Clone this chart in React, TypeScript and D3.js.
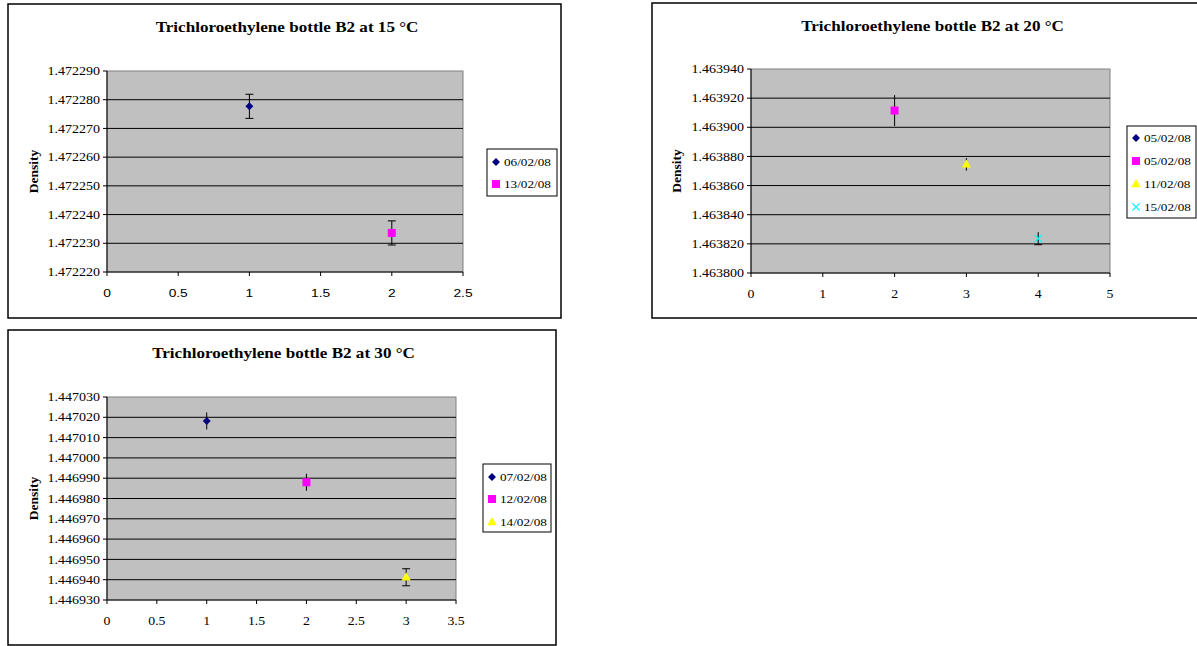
import React from 'react';
import * as d3 from 'd3';

// ---- data ----
const names15 = ['06/02/08', '13/02/08'];
const x15 = [1, 2];
const density15 = [1.4722777, 1.4722336];
const err15 = [0.0000042, 0.0000042];
const yTicks15 = ['1.472220', '1.472230', '1.472240', '1.472250', '1.472260', '1.472270', '1.472280', '1.472290'];
const xTicks15 = ['0', '0.5', '1', '1.5', '2', '2.5'];

const names20 = ['05/02/08', '05/02/08', '11/02/08', '15/02/08'];
const x20 = [null, 2, 3, 4];
const density20 = [null, 1.4639115, 1.4638746, 1.4638237];
const err20 = [null, 0.0000106, 0.0000043, 0.0000043];
const yTicks20 = ['1.463800', '1.463820', '1.463840', '1.463860', '1.463880', '1.463900', '1.463920', '1.463940'];
const xTicks20 = ['0', '1', '2', '3', '4', '5'];

const names30 = ['07/02/08', '12/02/08', '14/02/08'];
const x30 = [1, 2, 3];
const density30 = [1.4470182, 1.446988, 1.4469412];
const err30 = [0.0000042, 0.0000042, 0.0000042];
const yTicks30 = ['1.446930', '1.446940', '1.446950', '1.446960', '1.446970', '1.446980', '1.446990', '1.447000', '1.447010', '1.447020', '1.447030'];
const xTicks30 = ['0', '0.5', '1', '1.5', '2', '2.5', '3', '3.5'];

const markerKinds = ['diamond', 'square', 'triangle', 'x'];
const markerColors = ['#000080', '#FF00FF', '#FFFF00', '#00FFFF'];

const serif = '"Liberation Serif", "Times New Roman", serif';
const sans = '"Liberation Sans", Arial, sans-serif';
// the source picture is stretched sideways, so the text is widened too
const STRETCH = 1.2;

type Panel = {
  title: string;
  box: [number, number, number, number];
  plot: [number, number, number, number];
  legend: [number, number, number, number];
  legendRows: number[];
  names: string[];
  xs: (number | null)[];
  ys: (number | null)[];
  errs: (number | null)[];
  caps: ('both' | 'bottom' | 'none')[];
  yTicks: string[];
  xTicks: string[];
  xFont: string;
  densityX: number;
};

function T({ x, y, anchor = 'start', size = 11, family = serif, bold = false, sx = STRETCH, children }: any) {
  return (
    <g transform={`translate(${x},${y}) scale(${sx},1)`}>
      <text textAnchor={anchor} dy="0.35em" fontFamily={family} fontSize={size} fontWeight={bold ? 'bold' : 'normal'}>
        {children}
      </text>
    </g>
  );
}

function Marker({ kind, color, x, y }: { kind: string; color: string; x: number; y: number }) {
  if (kind === 'diamond') {
    const d = d3.symbol(d3.symbolDiamond2, 40)();
    return <path d={d as string} transform={`translate(${x},${y})`} fill={color} />;
  }
  if (kind === 'square') {
    return <rect x={x - 4} y={y - 4} width={8} height={8} fill={color} />;
  }
  if (kind === 'triangle') {
    const d = d3.symbol(d3.symbolTriangle, 38)();
    return <path d={d as string} transform={`translate(${x},${y + 0.5})`} fill={color} />;
  }
  const d = d3.symbol(d3.symbolX, 36)();
  return <path d={d as string} transform={`translate(${x},${y})`} stroke={color} strokeWidth={1.3} fill="none" />;
}

function Chart({ p }: { p: Panel }) {
  const [bx0, by0, bx1, by1] = p.box;
  const [px0, py0, px1, py1] = p.plot;
  const yVals = p.yTicks.map(Number);
  const xVals = p.xTicks.map(Number);
  const y = d3.scaleLinear().domain([yVals[0], yVals[yVals.length - 1]]).range([py1, py0]);
  const x = d3.scaleLinear().domain([xVals[0], xVals[xVals.length - 1]]).range([px0, px1]);
  const [lx0, ly0, lx1, ly1] = p.legend;

  return (
    <g>
      <rect x={bx0} y={by0} width={bx1 - bx0} height={by1 - by0} fill="#fff" stroke="#000" strokeWidth={1.5} />
      <T x={(px0 + px1) / 2 + 2} y={by0 + 23} anchor="middle" size={14} bold sx={1.22}>
        {p.title}
      </T>
      <rect x={px0} y={py0} width={px1 - px0} height={py1 - py0} fill="#C0C0C0" stroke="#808080" strokeWidth={1} />
      {yVals.map((v, i) => (
        <g key={'y' + i}>
          {i > 0 && i < yVals.length - 1 && (
            <line x1={px0} x2={px1} y1={y(v)} y2={y(v)} stroke="#000" strokeWidth={1} />
          )}
          <line x1={px0 - 4} x2={px0} y1={y(v)} y2={y(v)} stroke="#000" />
          <T x={px0 - 7} y={y(v)} anchor="end" size={11.7}>
            {p.yTicks[i]}
          </T>
        </g>
      ))}
      {xVals.map((v, i) => (
        <g key={'x' + i}>
          <line x1={x(v)} x2={x(v)} y1={py1} y2={py1 + 4} stroke="#000" />
          <T x={x(v)} y={py1 + 21} anchor="middle" family={p.xFont} size={11.5}>
            {p.xTicks[i]}
          </T>
        </g>
      ))}
      <line x1={px0} x2={px0} y1={py0} y2={py1} stroke="#000" />
      <line x1={px0} x2={px1} y1={py1} y2={py1} stroke="#000" />
      <text
        transform={`translate(${p.densityX},${(py0 + py1) / 2}) rotate(-90)`}
        textAnchor="middle"
        dy="0.35em"
        fontFamily={serif}
        fontWeight="bold"
        fontSize={13.5}
      >
        Density
      </text>
      {p.names.map((_, i) => {
        const xv = p.xs[i];
        const yv = p.ys[i];
        const ev = p.errs[i];
        if (xv == null || yv == null || ev == null) return null;
        const cx = x(xv);
        const top = y(yv + ev);
        const bot = y(yv - ev);
        return (
          <g key={'s' + i}>
            <line x1={cx} x2={cx} y1={top} y2={bot} stroke="#000" strokeWidth={1} />
            {p.caps[i] === 'both' && <line x1={cx - 4} x2={cx + 4} y1={top} y2={top} stroke="#000" />}
            {p.caps[i] !== 'none' && <line x1={cx - 4} x2={cx + 4} y1={bot} y2={bot} stroke="#000" />}
            <Marker kind={markerKinds[i]} color={markerColors[i]} x={cx} y={y(yv)} />
          </g>
        );
      })}
      <rect x={lx0} y={ly0} width={lx1 - lx0} height={ly1 - ly0} fill="#fff" stroke="#000" strokeWidth={1} />
      {p.names.map((n, i) => (
        <g key={'l' + i}>
          <Marker kind={markerKinds[i]} color={markerColors[i]} x={lx0 + 9} y={p.legendRows[i]} />
          <T x={lx0 + 17} y={p.legendRows[i]}>
            {n}
          </T>
        </g>
      ))}
    </g>
  );
}

const panels: Panel[] = [
  {
    title: 'Trichloroethylene bottle B2 at 15 °C',
    box: [8, 4, 561, 318],
    plot: [107, 71, 463, 272],
    legend: [487, 149, 557, 196],
    legendRows: [162, 184],
    names: names15,
    xs: x15,
    ys: density15,
    errs: err15,
    caps: ['both', 'both'],
    yTicks: yTicks15,
    xTicks: xTicks15,
    xFont: sans,
    densityX: 33,
  },
  {
    title: 'Trichloroethylene bottle B2 at 20 °C',
    box: [652, 3, 1200, 318],
    plot: [751, 69, 1110, 273],
    legend: [1127, 126, 1196, 218],
    legendRows: [138, 161, 184, 207],
    names: names20,
    xs: x20,
    ys: density20,
    errs: err20,
    caps: ['none', 'none', 'none', 'bottom'],
    yTicks: yTicks20,
    xTicks: xTicks20,
    xFont: serif,
    densityX: 676,
  },
  {
    title: 'Trichloroethylene bottle B2 at 30 °C',
    box: [8, 330, 556, 645],
    plot: [107, 397, 456, 600],
    legend: [483, 464, 551, 532],
    legendRows: [477, 499, 522],
    names: names30,
    xs: x30,
    ys: density30,
    errs: err30,
    caps: ['none', 'none', 'both'],
    yTicks: yTicks30,
    xTicks: xTicks30,
    xFont: serif,
    densityX: 33,
  },
];

export default function App() {
  return (
    <svg
      width={1197}
      height={646}
      style={{ position: 'absolute', left: 0, top: 0, background: '#fff' }}
    >
      {panels.map((p, i) => (
        <Chart key={i} p={p} />
      ))}
    </svg>
  );
}
